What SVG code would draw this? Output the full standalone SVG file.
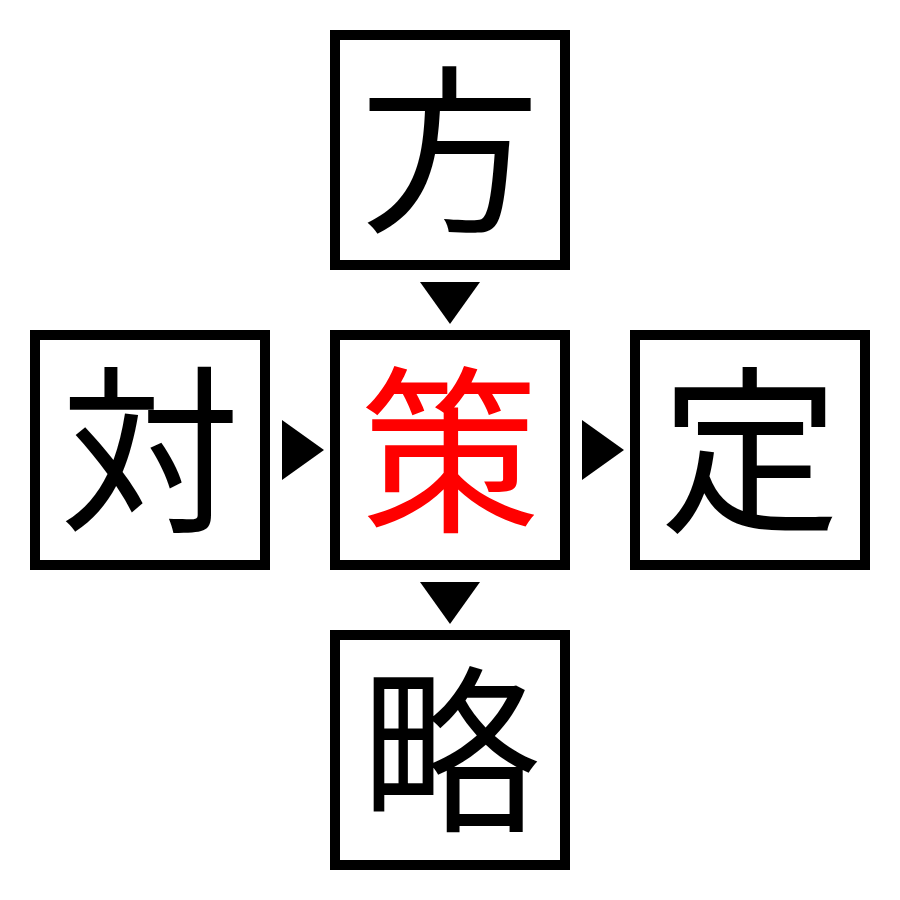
<svg xmlns="http://www.w3.org/2000/svg" width="900" height="900" viewBox="0 0 900 900">
<style>
.box{fill:#fff;stroke:#000;stroke-width:10}
.ch{font-family:"Noto Sans CJK JP","Noto Sans CJK SC",sans-serif;font-size:180px;text-anchor:middle;fill:#000}
.red{fill:#f00}
.arr{fill:#000}
</style>
<rect width="900" height="900" fill="#fff"/>
<g id="node-top"><rect class="box" x="335" y="35" width="230" height="230"/><text class="ch" x="450" y="218">方</text></g>
<g id="node-left"><rect class="box" x="35" y="335" width="230" height="230"/><text class="ch" x="150" y="518">対</text></g>
<g id="node-center"><rect class="box" x="335" y="335" width="230" height="230"/><text class="ch red" x="450" y="518">策</text></g>
<g id="node-right"><rect class="box" x="635" y="335" width="230" height="230"/><text class="ch" x="750" y="518">定</text></g>
<g id="node-bottom"><rect class="box" x="335" y="635" width="230" height="230"/><text class="ch" x="450" y="818">略</text></g>
<g id="connectors">
<polygon class="arr" points="420,282 480,282 450,324"/>
<polygon class="arr" points="420,582 480,582 450,624"/>
<polygon class="arr" points="282,420 282,480 324,450"/>
<polygon class="arr" points="582,420 582,480 624,450"/>
</g>
</svg>
